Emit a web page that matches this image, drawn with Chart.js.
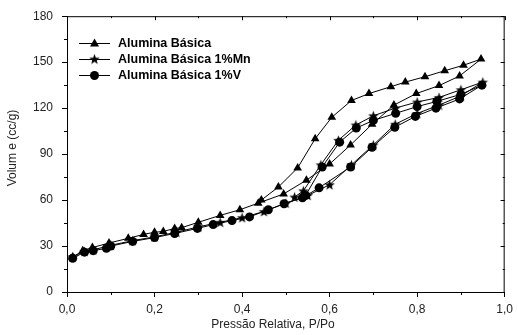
<!DOCTYPE html>
<html>
<head>
<meta charset="utf-8">
<script src="https://cdn.jsdelivr.net/npm/chart.js@4.4.0/dist/chart.umd.min.js"></script>
<style>
	html, body { margin: 0; padding: 0; background: #fff; }
	#wrap { width: 518px; height: 335px; }
</style>
</head>
<body>
<div id="wrap"><canvas id="chart"></canvas></div>
<script>
// Alumina Básica (triangles) - adsorption then desorption
var basicaP = [0.013, 0.036, 0.058, 0.096, 0.14, 0.175, 0.2, 0.22, 0.246, 0.262, 0.3, 0.35, 0.395, 0.437, 0.495, 0.547, 0.6, 0.648, 0.697, 0.747, 0.798, 0.85, 0.897, 0.946,
	0.906, 0.863, 0.818, 0.773, 0.74, 0.69, 0.65, 0.605, 0.567, 0.527, 0.483, 0.444];
var basicaV = [22.7, 27, 29, 32, 35, 37.6, 39, 39.5, 41.5, 42, 45.5, 50, 53.7, 58, 64, 73, 83.5, 96, 109.5, 122, 129.5, 134.7, 141, 152,
	148, 144.4, 140.5, 137, 134, 129.5, 125, 114, 100, 81, 68.5, 60];

// Alumina Básica 1%Mn (stars)
var mnP = [0.013, 0.04, 0.06, 0.1, 0.15, 0.2, 0.25, 0.3, 0.35, 0.4, 0.45, 0.5, 0.55, 0.6, 0.65, 0.7, 0.75, 0.8, 0.85, 0.9, 0.95,
	0.9, 0.85, 0.8, 0.75, 0.7, 0.66, 0.62, 0.58, 0.54, 0.52];
var mnV = [23, 26.5, 27.5, 30.5, 33.5, 36, 39, 42.5, 45.5, 48.5, 52.5, 58, 63, 70, 83, 96, 109.5, 116.5, 122, 128, 137,
	132, 127, 124, 120, 115, 109, 99, 83, 66, 62];

// Alumina Básica 1%V (circles)
var vP = [0.013, 0.04, 0.06, 0.09, 0.1, 0.15, 0.2, 0.246, 0.298, 0.334, 0.377, 0.417, 0.46, 0.496, 0.538, 0.576, 0.648, 0.697, 0.749, 0.796, 0.843, 0.897, 0.948,
	0.9, 0.845, 0.8, 0.751, 0.7, 0.661, 0.623, 0.583, 0.545];
var vV = [22, 26, 27, 28.5, 30, 33, 35.5, 38.2, 41.5, 44, 46.6, 49, 53.7, 57.6, 61.5, 68, 81.6, 94.5, 107.5, 114.6, 120, 126, 135,
	129, 124.4, 121, 116.6, 112, 107, 97.8, 81.6, 63];

var seriesNames = ['Alumina Básica', 'Alumina Básica 1%Mn', 'Alumina Básica 1%V'];
var xTitle = 'Pressão Relativa, P/Po';
var yTitle = 'Volum e (cc/g)';

var FONT = '"Liberation Sans", Arial, sans-serif';

function toPoints(px, vy) {
	var out = [];
	for (var i = 0; i < px.length; i++) out.push({ x: px[i], y: vy[i] });
	return out;
}

// filled five-point star as a point image
function starImage(r) {
	var c = document.createElement('canvas');
	var s = Math.ceil(r * 2 + 2);
	c.width = s; c.height = s;
	var g = c.getContext('2d');
	g.beginPath();
	for (var i = 0; i < 10; i++) {
		var rr = i % 2 === 0 ? r : r * 0.42;
		var a = -Math.PI / 2 + i * Math.PI / 5;
		var px = s / 2 + rr * Math.cos(a);
		var py = s / 2 + 0.5 + rr * Math.sin(a);
		if (i === 0) g.moveTo(px, py); else g.lineTo(px, py);
	}
	g.closePath();
	g.fillStyle = '#000';
	g.fill();
	return c;
}
var star = starImage(5.5);

function fmt(v) {
	return v.toFixed(1).replace('.', ',');
}

function isMajorX(v) { return Math.round(v * 10) % 2 === 0; }
function isMajorY(v) { return v % 30 === 0; }

// box frame, minor ticks, inward ticks on top and right, titles and legend
var framePlugin = {
	id: 'frame',
	afterDraw: function(chart) {
		var ctx = chart.ctx;
		var a = chart.chartArea;
		var xs = chart.scales.x, ys = chart.scales.y;
		ctx.save();
		ctx.strokeStyle = '#000';
		ctx.lineWidth = 1;
		ctx.beginPath();
		ctx.moveTo(a.left, a.top + 0.5);
		ctx.lineTo(a.right, a.top + 0.5);
		ctx.moveTo(a.right - 0.5, a.top);
		ctx.lineTo(a.right - 0.5, a.bottom);
		xs.ticks.forEach(function(t) {
			var px = Math.round(xs.getPixelForValue(t.value)) + 0.5;
			ctx.moveTo(px, a.top);
			ctx.lineTo(px, a.top + (isMajorX(t.value) ? 4 : 2));
			if (!isMajorX(t.value)) {
				ctx.moveTo(px, a.bottom);
				ctx.lineTo(px, a.bottom + 3);
			}
		});
		ys.ticks.forEach(function(t) {
			var py = Math.round(ys.getPixelForValue(t.value)) + 0.5;
			ctx.moveTo(a.right, py);
			ctx.lineTo(a.right - (isMajorY(t.value) ? 4 : 2), py);
			if (!isMajorY(t.value)) {
				ctx.moveTo(a.left, py);
				ctx.lineTo(a.left - 3, py);
			}
		});
		ctx.stroke();

		// axis titles
		ctx.fillStyle = '#222';
		ctx.font = '12px ' + FONT;
		ctx.textAlign = 'center';
		ctx.textBaseline = 'middle';
		ctx.fillText(xTitle, 273, 325);
		ctx.save();
		ctx.translate(13, 148);
		ctx.rotate(-Math.PI / 2);
		ctx.fillText(yTitle, 0, 0);
		ctx.restore();

		// legend
		var styles = ['triangle', 'star', 'circle'];
		var lx = 79, ly = 43;
		ctx.font = 'bold 12.5px ' + FONT;
		ctx.textAlign = 'left';
		ctx.fillStyle = '#000';
		for (var i = 0; i < seriesNames.length; i++) {
			var y = ly + i * 16;
			var cx = lx + 15.5;
			ctx.beginPath();
			ctx.moveTo(lx, y + 0.5);
			ctx.lineTo(lx + 31, y + 0.5);
			ctx.stroke();
			if (styles[i] === 'triangle') {
				ctx.beginPath();
				ctx.moveTo(cx, y - 4.5);
				ctx.lineTo(cx + 4.5, y + 3.5);
				ctx.lineTo(cx - 4.5, y + 3.5);
				ctx.closePath();
				ctx.fill();
			} else if (styles[i] === 'star') {
				ctx.drawImage(star, cx - star.width / 2, y - star.height / 2);
			} else {
				ctx.beginPath();
				ctx.arc(cx, y + 0.5, 4.5, 0, Math.PI * 2);
				ctx.fill();
			}
			ctx.fillText(seriesNames[i], 118, y + 1);
		}
		ctx.restore();
	}
};

var ctx = document.getElementById('chart');
var myChart = new Chart(ctx, {
	type: 'scatter',
	data: {
		datasets: [
			{
				label: seriesNames[0],
				data: toPoints(basicaP, basicaV),
				showLine: true,
				borderColor: '#000',
				backgroundColor: '#000',
				borderWidth: 1,
				pointStyle: 'triangle',
				pointRadius: 5,
				pointBorderWidth: 0
			},
			{
				label: seriesNames[1],
				data: toPoints(mnP, mnV),
				showLine: true,
				borderColor: '#000',
				backgroundColor: '#000',
				borderWidth: 1,
				pointStyle: star,
				pointRadius: 5
			},
			{
				label: seriesNames[2],
				data: toPoints(vP, vV),
				showLine: true,
				borderColor: '#000',
				backgroundColor: '#000',
				borderWidth: 1,
				pointStyle: 'circle',
				pointRadius: 4.5,
				pointBorderWidth: 0
			}
		]
	},
	options: {
		responsive: true,
		maintainAspectRatio: false,
		animation: false,
		layout: { padding: { left: 0, right: 5, top: 14, bottom: 0 } },
		plugins: {
			legend: { display: false },
			tooltip: { enabled: false }
		},
		scales: {
			x: {
				type: 'linear',
				min: 0,
				max: 1,
				afterFit: function(s) { s.height = 43; },
				border: { display: true, color: '#000', width: 1 },
				grid: {
					drawOnChartArea: false,
					tickLength: 5,
					color: function(c) { return c.tick && isMajorX(c.tick.value) ? '#000' : 'rgba(0,0,0,0)'; }
				},
				ticks: {
					stepSize: 0.1,
					autoSkip: false,
					maxRotation: 0,
					padding: 5,
					color: '#222',
					font: { family: FONT, size: 12 },
					callback: function(v) {
						return isMajorX(v) ? fmt(Math.round(v * 10) / 10) : '';
					}
				}
			},
			y: {
				min: 0,
				max: 180,
				afterFit: function(s) { s.width = 67; },
				border: { display: true, color: '#000', width: 1 },
				grid: {
					drawOnChartArea: false,
					tickLength: 5,
					color: function(c) { return c.tick && isMajorY(c.tick.value) ? '#000' : 'rgba(0,0,0,0)'; }
				},
				ticks: {
					stepSize: 15,
					autoSkip: false,
					padding: 9,
					color: '#222',
					font: { family: FONT, size: 12 },
					callback: function(v) {
						return isMajorY(v) ? String(v) : '';
					}
				}
			}
		}
	},
	plugins: [framePlugin]
});
</script>
</body>
</html>
